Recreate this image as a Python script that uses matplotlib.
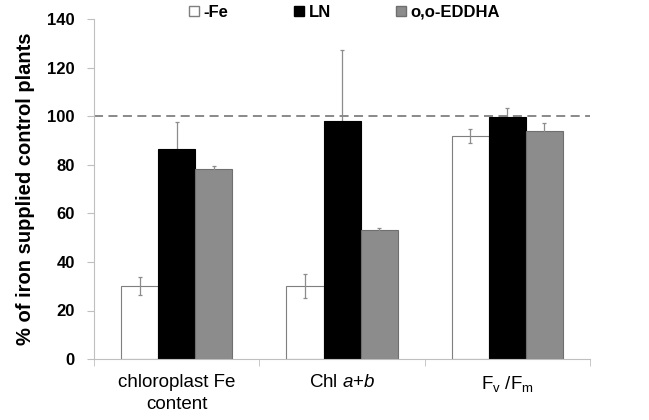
import matplotlib.pyplot as plt
import numpy as np
from matplotlib.patches import Patch

plt.rcParams['font.family'] = ['Liberation Sans', 'DejaVu Sans']
plt.rcParams['mathtext.fontset'] = 'custom'
plt.rcParams['mathtext.rm'] = 'Liberation Sans'
plt.rcParams['mathtext.it'] = 'Liberation Sans:italic'

categories = ['chloroplast Fe\ncontent', 'Chl $\\mathit{a{+}b}$', 'F$_\\mathrm{v}$ /F$_\\mathrm{m}$']
series = ['-Fe', 'LN', 'o,o-EDDHA']
minus_fe = [30.2, 30.0, 91.8]
minus_fe_err = [3.7, 4.9, 3.0]
ln = [86.3, 98.1, 99.7]
ln_err = [11.4, 29.3, 3.5]
eddha = [78.1, 53.1, 93.8]
eddha_err = [1.5, 1.0, 3.2]

colors = ['white', 'black', '#8c8c8c']
edges = ['#7f7f7f', 'black', '#6f6f6f']

fig = plt.figure(figsize=(6.49, 4.2), dpi=100)
ax = fig.add_axes([0.145, 0.145, 0.764, 0.81])

x = np.arange(len(categories))
w = 0.224
vals = [minus_fe, ln, eddha]
errs = [minus_fe_err, ln_err, eddha_err]
for i, (v, e) in enumerate(zip(vals, errs)):
    ax.bar(x + (i - 1) * w, v, w, color=colors[i], edgecolor=edges[i],
           linewidth=0.8, zorder=2)
    # black bars hide the lower half of their error bars
    ax.errorbar(x + (i - 1) * w, v, yerr=e, fmt='none', ecolor='#8c8c8c',
                elinewidth=0.9, capsize=1.5, capthick=0.9,
                zorder=1.5 if i == 1 else 3)

ax.axhline(100, color='#808080', linestyle=(0, (5, 3)), linewidth=1.3, zorder=1)

ax.set_xlim(-0.5, 2.5)
ax.set_ylim(0, 140)
ax.set_yticks(np.arange(0, 141, 20))
ax.set_xticks(x)
ax.set_xticklabels(categories, fontsize=13.5, linespacing=1.35)
ax.set_xticks([-0.5, 0.5, 1.5, 2.5], minor=True)
ax.tick_params(axis='x', which='major', length=0, pad=11)
ax.tick_params(axis='x', which='minor', length=5, color='#bfbfbf')
ax.tick_params(axis='y', length=5, color='#bfbfbf', labelsize=12, pad=9)
for lab in ax.get_yticklabels():
    lab.set_fontweight('bold')
ax.set_ylabel('% of iron supplied control plants', fontsize=14.5, fontweight='bold', labelpad=9)

for s in ['top', 'right']:
    ax.spines[s].set_visible(False)
for s in ['left', 'bottom']:
    ax.spines[s].set_color('#bfbfbf')

handles = [Patch(facecolor=c, edgecolor=ec) for c, ec in zip(colors, edges)]
leg = ax.legend(handles, series, loc='upper center', bbox_to_anchor=(0.505, 1.085), ncol=3,
                frameon=False, handlelength=0.6, handleheight=0.6, handletextpad=0.3,
                columnspacing=3.9, prop={'weight': 'bold', 'size': 12})

fig.savefig('out.png', dpi=100)
